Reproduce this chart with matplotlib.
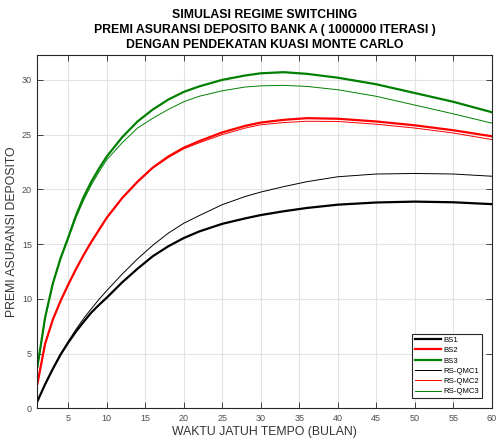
import matplotlib
matplotlib.use("Agg")
import matplotlib.pyplot as plt
import numpy as np

plt.rcParams['font.family'] = ['Liberation Sans', 'DejaVu Sans']

# Maturity (months) at which values were read
t = [1, 2, 3, 4, 5, 6, 7, 8, 9, 10, 12, 14, 16, 18, 20, 22, 25, 28, 30, 33, 36, 40, 45, 50, 55, 60]

bs1 = [0.65, 2.2, 3.6, 4.9, 6.0, 7.0, 7.9, 8.75, 9.45, 10.1, 11.5, 12.75, 13.9, 14.8, 15.55, 16.15, 16.85, 17.35,
       17.65, 18.0, 18.3, 18.6, 18.8, 18.88, 18.82, 18.65]
bs2 = [2.25, 5.9, 8.1, 9.8, 11.3, 12.7, 14.0, 15.2, 16.3, 17.4, 19.2, 20.7, 22.0, 23.0, 23.8, 24.4, 25.2, 25.8,
       26.1, 26.35, 26.5, 26.45, 26.2, 25.85, 25.4, 24.85]
bs3 = [3.8, 8.3, 11.4, 13.7, 15.6, 17.6, 19.3, 20.7, 21.9, 23.0, 24.75, 26.2, 27.3, 28.2, 28.9, 29.4, 30.0, 30.4,
       30.6, 30.7, 30.55, 30.2, 29.6, 28.8, 28.0, 27.05]
rs1 = [0.65, 2.2, 3.6, 4.95, 6.1, 7.2, 8.2, 9.1, 9.95, 10.75, 12.25, 13.65, 14.9, 16.0, 16.9, 17.6, 18.6, 19.35,
       19.75, 20.25, 20.7, 21.15, 21.4, 21.45, 21.4, 21.2]
rs2 = [2.25, 5.9, 8.1, 9.8, 11.3, 12.7, 14.0, 15.2, 16.3, 17.4, 19.2, 20.65, 21.95, 22.9, 23.7, 24.25, 25.0, 25.6,
       25.9, 26.1, 26.22, 26.2, 25.95, 25.6, 25.15, 24.55]
rs3 = [3.8, 8.3, 11.4, 13.6, 15.5, 17.4, 19.0, 20.4, 21.6, 22.7, 24.25, 25.6, 26.5, 27.3, 28.0, 28.5, 29.0, 29.35,
       29.45, 29.5, 29.4, 29.1, 28.5, 27.7, 26.9, 26.05]

labels = ['BS1', 'BS2', 'BS3', 'RS-QMC1', 'RS-QMC2', 'RS-QMC3']
title_lines = ['SIMULASI REGIME SWITCHING',
               'PREMI ASURANSI DEPOSITO BANK A ( 1000000 ITERASI )',
               'DENGAN PENDEKATAN KUASI MONTE CARLO']
xticks = list(range(5, 61, 5))
yticks = list(range(0, 31, 5))

fig = plt.figure(figsize=(4.97, 4.41), dpi=100)
ax = fig.add_axes([0.0753, 0.0741, 0.914, 0.8019])

dkgreen = (0.0, 0.5, 0.0)
ax.plot(t, bs1, color='k', lw=1.6, label=labels[0])
ax.plot(t, bs2, color='r', lw=1.6, label=labels[1])
ax.plot(t, bs3, color=dkgreen, lw=1.6, label=labels[2])
ax.plot(t, rs1, color='k', lw=0.7, label=labels[3])
ax.plot(t, rs2, color='r', lw=0.7, label=labels[4])
ax.plot(t, rs3, color=dkgreen, lw=0.7, label=labels[5])

ax.set_xlim(1, 60)
ax.set_ylim(0, 32.3)
ax.set_xticks(xticks)
ax.set_yticks(yticks)
ax.grid(True, color='#e3e3e3', lw=0.8)
ax.set_axisbelow(True)
gray = (0.15, 0.15, 0.15)
for s in ax.spines.values():
    s.set_color(gray)
    s.set_linewidth(0.8)
ax.tick_params(direction='in', top=True, right=True, length=4, width=0.6,
               colors=gray, labelsize=6.5, labelcolor=(0.3, 0.3, 0.3), pad=4)

ax.set_xlabel('WAKTU JATUH TEMPO (BULAN)', fontsize=8.8, color=(0.2, 0.2, 0.2), labelpad=2)
ax.set_ylabel('PREMI ASURANSI DEPOSITO', fontsize=8.8, color=(0.2, 0.2, 0.2), labelpad=3)

for i, line in enumerate(title_lines):
    fig.text(0.532, 1 - (15 + 15 * i) / 441, line, ha='center', va='center',
             fontsize=8.8, fontweight='bold', color='k')

leg = ax.legend(loc='lower right', fontsize=5.6, frameon=True, fancybox=False,
                edgecolor=gray, framealpha=1, handlelength=3.3, handletextpad=0.3,
                labelspacing=0.37, borderpad=0.35, borderaxespad=1.3)
leg.get_frame().set_linewidth(0.8)

fig.savefig('out.png', dpi=100)
